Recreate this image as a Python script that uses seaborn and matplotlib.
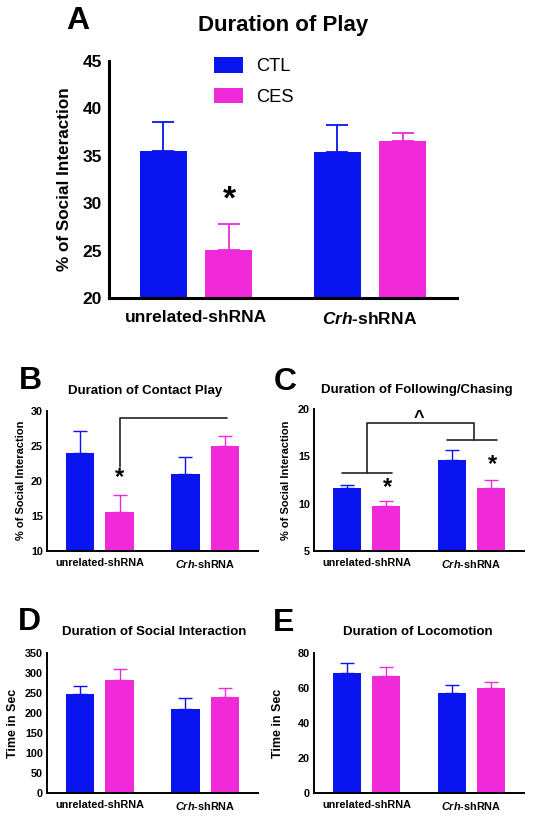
import numpy as np
import pandas as pd
import matplotlib
matplotlib.use("Agg")
import matplotlib.pyplot as plt
import seaborn as sns

# ---------------- data ----------------
categories = ['unrelated-shRNA', 'Crh-shRNA']
groups = ['CTL', 'CES']

play_ctl = [35.5, 35.4]
play_ctl_sem = [3.1, 2.8]
play_ces = [25.1, 36.6]
play_ces_sem = [2.7, 0.8]

contact_ctl = [24.0, 20.9]
contact_ctl_sem = [3.1, 2.5]
contact_ces = [15.5, 25.0]
contact_ces_sem = [2.5, 1.4]

follow_ctl = [11.6, 14.6]
follow_ctl_sem = [0.4, 1.1]
follow_ces = [9.7, 11.6]
follow_ces_sem = [0.6, 0.9]

social_ctl = [247.5, 211.0]
social_ctl_sem = [21.0, 26.5]
social_ces = [283.0, 242.0]
social_ces_sem = [27.0, 22.0]

loco_ctl = [68.6, 57.1]
loco_ctl_sem = [5.9, 4.8]
loco_ces = [67.2, 60.0]
loco_ces_sem = [5.2, 3.8]

tick_labels = ['unrelated-shRNA', r'$\mathbfit{Crh}$-shRNA']

# ---------------- style ----------------
sns.set_style("white")
plt.rcParams['font.family'] = ['Liberation Sans', 'DejaVu Sans']
plt.rcParams['mathtext.fontset'] = 'custom'
plt.rcParams['mathtext.bfit'] = 'Liberation Sans:italic:bold'
plt.rcParams['mathtext.bf'] = 'Liberation Sans:bold'
plt.rcParams['mathtext.rm'] = 'Liberation Sans'
for k in ('text.color', 'axes.labelcolor', 'xtick.color', 'ytick.color',
          'axes.edgecolor'):
    plt.rcParams[k] = 'black'

BLUE = '#0A14F0'
PINK = '#F02AD8'
palette = {'CTL': BLUE, 'CES': PINK}

W, H = 535, 819
fig = plt.figure(figsize=(W / 100, H / 100), dpi=100)


def rect(left, top, right, bottom):
    return [left / W, 1 - bottom / H, (right - left) / W, (bottom - top) / H]


def fpos(x, y):
    return (x / W, 1 - y / H)


def make_df(ctl, ces, ctl_sem, ces_sem):
    rows = []
    for g, vals, sems in (('CTL', ctl, ctl_sem), ('CES', ces, ces_sem)):
        for c, v, s in zip(categories, vals, sems):
            rows.append({'shRNA': c, 'group': g, 'value': v, 'sem': s})
    return pd.DataFrame(rows)


def panel(ax, df, ylim, yticks, big=False, legend=False):
    sns.barplot(data=df, x='shRNA', y='value', hue='group', order=categories,
                hue_order=groups, palette=palette, width=0.75, gap=0.28,
                errorbar=None, linewidth=0, saturation=1, ax=ax, legend=legend)
    lw = 2.2 if big else 1.4
    cap = 8.2 if big else 5.0
    for cont, g in zip(ax.containers, groups):
        sub = df[df['group'] == g].set_index('shRNA').loc[categories]
        xs = [p.get_x() + p.get_width() / 2 for p in cont.patches]
        hs = [p.get_height() for p in cont.patches]
        ax.errorbar(xs, hs, yerr=[np.zeros(len(hs)), sub['sem'].values],
                    fmt='none', ecolor=palette[g], elinewidth=1.3 if big else 1.0,
                    capsize=cap, capthick=1.3 if big else 1.0, zorder=1)
    ax.set_xlim(-0.5, 1.5)
    ax.set_ylim(*ylim)
    ax.set_yticks(yticks)
    for s in ('top', 'right'):
        ax.spines[s].set_visible(False)
    for s in ('left', 'bottom'):
        ax.spines[s].set_linewidth(lw)
        ax.spines[s].set_color('black')
    fs_tick = 12.5 if big else 7.8
    fs_x = 12.5 if big else 7.8
    ax.tick_params(axis='y', direction='out', length=4.5 if big else 2.5,
                   width=lw, pad=0.5, labelsize=fs_tick)
    ax.tick_params(axis='x', direction='out', length=5 if big else 3,
                   width=lw, pad=4 if big else 2, labelsize=fs_x)
    ax.set_xticks(range(len(categories)))
    ax.set_xticklabels(tick_labels)
    for t in ax.get_yticklabels() + ax.get_xticklabels():
        t.set_fontweight('bold')
    ax.set_xlabel('')


# ---------- Panel A ----------
axA = fig.add_axes(rect(109, 61, 457, 298))
panel(axA, make_df(play_ctl, play_ces, play_ctl_sem, play_ces_sem),
      (20, 45), range(20, 46, 5), big=True, legend=True)
axA.set_ylabel('% of Social Interaction', fontsize=12.3, fontweight='bold')
axA.yaxis.set_label_coords(-0.105, 0.5)
leg = axA.legend(loc='upper left', bbox_to_anchor=fpos(214, 57),
                 bbox_transform=fig.transFigure, frameon=False, fontsize=13.2,
                 handlelength=1.6, handleheight=0.95, labelspacing=0.68,
                 handletextpad=0.7, borderpad=0, borderaxespad=0)
axA.text(0.19, 30.3, '*', fontsize=24, fontweight='bold', ha='center', va='center')
fig.text(*fpos(283, 25), 'Duration of Play', fontsize=16, fontweight='bold',
         ha='center', va='center')
fig.text(*fpos(78, 21), 'A', fontsize=23, fontweight='bold', ha='center', va='center')

# ---------- Panel B ----------
axB = fig.add_axes(rect(47, 410.7, 258, 550.7))
panel(axB, make_df(contact_ctl, contact_ces, contact_ctl_sem, contact_ces_sem),
      (10, 30), range(10, 31, 5))
axB.set_ylabel('% of Social Interaction', fontsize=8, fontweight='bold')
axB.yaxis.set_label_coords(-0.1, 0.5)
bx = [p.get_x() + p.get_width() / 2 for p in axB.containers[1].patches]
axB.plot([bx[0], bx[0], bx[1] + 0.02], [22.0, 28.9, 28.9], color='#222222', lw=1.2,
         clip_on=False)
axB.text(bx[0], 20.4, '*', fontsize=17, fontweight='bold', ha='center', va='center')
fig.text(*fpos(145, 391), 'Duration of Contact Play', fontsize=9.5, fontweight='bold',
         ha='center', va='center')
fig.text(*fpos(30, 381), 'B', fontsize=23, fontweight='bold', ha='center', va='center')

# ---------- Panel C ----------
axC = fig.add_axes(rect(314, 409.3, 524, 550.7))
panel(axC, make_df(follow_ctl, follow_ces, follow_ctl_sem, follow_ces_sem),
      (5, 20), range(5, 21, 5))
axC.set_ylabel('% of Social Interaction', fontsize=8, fontweight='bold')
axC.yaxis.set_label_coords(-0.11, 0.5)
cx = [p.get_x() + p.get_width() / 2 for p in axC.containers[1].patches]
for xc, yb in zip(range(len(categories)), (13.2, 16.7)):
    axC.plot([xc - 0.23, xc + 0.245], [yb, yb], color='#222222', lw=1.2)
axC.plot([0, 0, 1.02, 1.02], [13.2, 18.5, 18.5, 16.7], color='#222222', lw=1.2,
         clip_on=False)
axC.text(0.5, 19.0, '^', fontsize=13, fontweight='bold', ha='center', va='center')
axC.text(cx[0] + 0.01, 11.75, '*', fontsize=17, fontweight='bold', ha='center', va='center')
axC.text(cx[1] + 0.01, 14.1, '*', fontsize=17, fontweight='bold', ha='center', va='center')
fig.text(*fpos(417, 390), 'Duration of Following/Chasing', fontsize=9.5,
         fontweight='bold', ha='center', va='center')
fig.text(*fpos(285, 382), 'C', fontsize=23, fontweight='bold', ha='center', va='center')

# ---------- Panel D ----------
axD = fig.add_axes(rect(47, 653.3, 258, 793.3))
panel(axD, make_df(social_ctl, social_ces, social_ctl_sem, social_ces_sem),
      (0, 350), range(0, 351, 50))
axD.set_ylabel('Time in Sec', fontsize=9, fontweight='bold')
axD.yaxis.set_label_coords(-0.135, 0.5)
fig.text(*fpos(154, 632), 'Duration of Social Interaction', fontsize=9.5,
         fontweight='bold', ha='center', va='center')
fig.text(*fpos(29, 622), 'D', fontsize=23, fontweight='bold', ha='center', va='center')

# ---------- Panel E ----------
axE = fig.add_axes(rect(314, 653.3, 524, 793.3))
panel(axE, make_df(loco_ctl, loco_ces, loco_ctl_sem, loco_ces_sem),
      (0, 80), range(0, 81, 20))
axE.set_ylabel('Time in Sec', fontsize=9, fontweight='bold')
axE.yaxis.set_label_coords(-0.143, 0.5)
fig.text(*fpos(418, 632), 'Duration of Locomotion', fontsize=9.5,
         fontweight='bold', ha='center', va='center')
fig.text(*fpos(284, 623), 'E', fontsize=23, fontweight='bold', ha='center', va='center')

fig.savefig('out.png', dpi=100)
